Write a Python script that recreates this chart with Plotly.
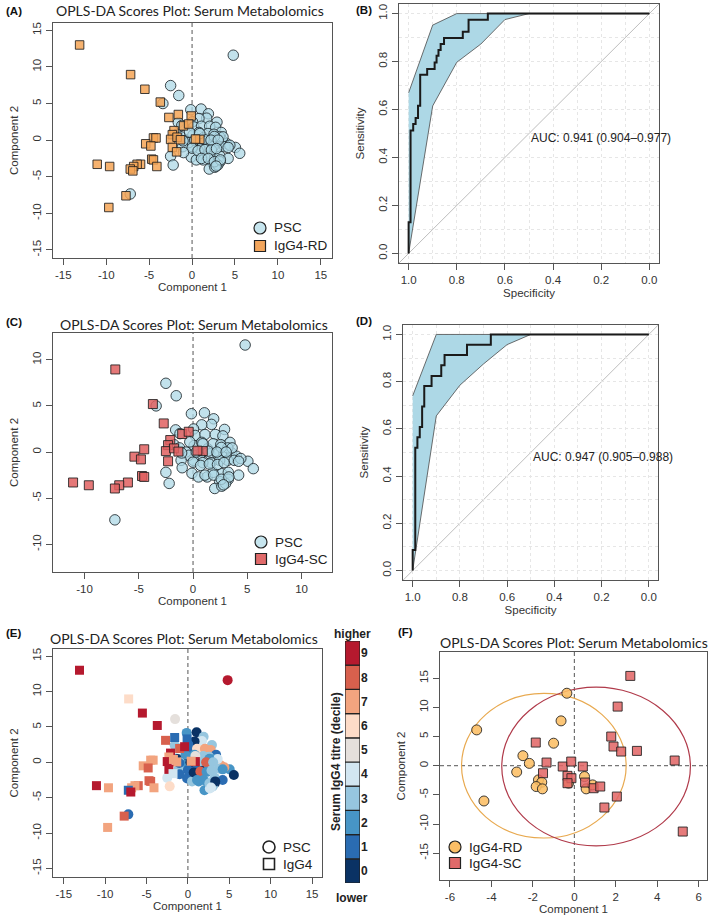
import plotly.graph_objects as go

W, H = 709, 924
def px(x): return x / W
def py(y): return 1 - y / H

# ---------------- DATA ----------------
# PSC scores (shared by panels A, C, E)
psc_c1 = [4.8,-2.5,-1.55,-3.4,-0.15,1.05,1.9,1.7,0.8,2.9,0.05,-1.6,-1.2,0.2,1.1,2.05,2.75,3.4,-1.75,-1.25,
          -0.65,0.1,0.8,1.35,1.85,2.55,0.8,0.6,1.55,2.25,2.85,3.55,4.0,3.2,2.45,1.65,0.9,0.05,-0.4,-1.1,
          -0.1,0.5,1.3,1.85,2.65,3.25,4.2,5.05,5.55,2.45,3.25,2.0,2.65,3.0,-2.5,-2.2,-7.2,3.2,3.6,3.8,
          4.4,2.6,-1.05,0.3,1.4,2.2,3.05,4.2,0.0,0.7,1.5,2.25,2.85,1.1,1.9,2.6,3.3,2.8,-1.0,-0.3,0.9]
psc_c2 = [11.6,7.45,6.1,5.0,4.15,4.25,3.6,3.0,2.95,2.45,2.5,2.4,2.0,1.8,1.9,1.9,1.75,1.05,0.8,0.45,
          0.0,0.7,1.05,0.35,0.9,0.8,0.0,-0.55,-0.2,-0.2,-0.1,-0.1,-0.45,-0.9,-0.9,-1.15,-1.15,-0.9,-0.35,-0.9,
          -2.3,-2.7,-2.7,-2.2,-2.35,-2.2,-2.5,-1.0,-1.8,-3.2,-2.95,-3.95,-3.7,-3.4,-2.2,-3.4,-7.35,0.45,0.45,-0.9,
          -0.7,0.5,-0.1,0.0,0.1,0.0,0.0,-1.0,-1.1,-1.45,-1.3,-1.35,-1.15,-2.5,-2.5,-2.95,-2.7,-3.55,-1.7,1.1,0.9]
psc_decile = [9,None,5,None,2,0,3,4,0,3, 1,3,3,1,6,7,7,1,4,0, 3,0,2,4,3,3,5,6,0,3,
              4,2,7,4,3,0,1,1,2,3, 1,3,2,2,4,3,1,2,0,3, 0,2,4,3,4,6,1,2,4,3,
              7,2,1,0,3,8,3,2,1,0, 8,2,3,2,2,3,0,4,1,2,5]

# IgG4 scores (panel A/E); igg4_sc flags the IgG4-SC subset shown in panel C
igg4_c1 = [-13.1,-7.16,-5.5,-3.7,-2.7,-1.6,-0.1,-1.0,-0.4,-2.1,-2.3,-2.5,-1.75,-1.35,-2.3,-1.8,0.9,0.4,-4.5,-4.2,
           -5.4,-4.8,-4.7,-4.5,-4.1,-6.0,-6.4,-6.8,-7.2,-6.9,-9.6,-11.05,-7.7,-9.7]
igg4_c2 = [13.0,8.95,6.95,5.2,3.1,3.5,3.3,1.95,2.2,1.3,0.75,0.1,0.4,0.05,-1.0,-1.6,0.1,0.15,0.3,0.3,
           -0.5,-0.8,-2.6,-2.7,-3.6,-3.3,-3.3,-3.6,-3.95,-4.2,-3.6,-3.3,-7.6,-9.2]
igg4_decile = [9,6,9,9,8,1,1,8,9,9, 7,9,7,7,9,4,9,7,7,7, 7,8,8,8,7,8,7,7,1,9, 7,9,8,7]
igg4_sc = [0,1,0,1,1,0,0,1,1,1, 1,1,1,1,1,0,1,1,1,0, 1,1,1,1,0,1,0,1,1,0, 1,1,0,0]

# ROC (B)
roc_b_spec = [1.0,1.0,0.992,0.981,0.971,0.961,0.952,0.923,0.892,0.884,0.876,0.867,0.853,0.775,0.751,0.671,0.0]
roc_b_sens = [0.0,0.13,0.513,0.54,0.565,0.616,0.745,0.769,0.796,0.824,0.848,0.873,0.898,0.924,0.974,1.0,1.0]
ci_spec = [1.0,0.9,0.8,0.7,0.6,0.5,0.4,0.3,0.2,0.1,0.0]
ci_b_lower = [0.0,0.615,0.797,0.873,0.975,1.0,1.0,1.0,1.0,1.0,1.0]
ci_b_upper = [0.67,0.952,1.0,1.0,1.0,1.0,1.0,1.0,1.0,1.0,1.0]
auc_b = "AUC: 0.941 (0.904\u20130.977)"

# ROC (D)
roc_d_spec = [1.0,1.0,0.989,0.980,0.970,0.960,0.951,0.920,0.879,0.865,0.770,0.669,0.0]
roc_d_sens = [0.0,0.087,0.52,0.565,0.608,0.695,0.782,0.824,0.870,0.913,0.956,1.0,1.0]
ci_d_lower = [0.0,0.655,0.785,0.875,0.957,1.0,1.0,1.0,1.0,1.0,1.0]
ci_d_upper = [0.74,1.0,1.0,1.0,1.0,1.0,1.0,1.0,1.0,1.0,1.0]
auc_d = "AUC: 0.947 (0.905\u20130.988)"

# Panel F: IgG4-RD vs IgG4-SC
f_rd_c1 = [-4.71,-4.36,-0.36,-0.64,-1.0,-2.48,-2.17,-2.78,-1.73,-1.57,-1.84,-1.54,-0.28,0.49,0.57,0.88]
f_rd_c2 = [6.14,-6.05,12.43,7.69,3.86,1.72,0.4,-1.08,-2.43,-2.83,-3.57,-3.97,-3.0,-1.86,-3.97,-3.29]
f_sc_c1 = [2.7,2.09,1.78,1.89,2.26,3.02,4.84,5.23,-1.86,-1.34,-1.51,-0.56,-0.15,0.41,-0.33,-0.14,-0.33,0.52,0.93,1.25,2.05,1.45]
f_sc_c2 = [15.4,10.14,5.0,3.29,2.43,2.54,0.89,-11.29,3.97,0.54,-1.29,-0.14,0.71,-0.14,-1.74,-2.14,-3.0,-2.89,-3.86,-3.57,-5.29,-7.17]
# confidence ellipses (centre x, centre y, semi-axis x, semi-axis y)
ell_rd = [-1.47, 0.0, 3.97, 12.4]
ell_sc = [1.05, -0.14, 4.55, 13.6]

deciles = list(range(10))
decile_colors = ['#0a3264','#2a6cb2','#4795c6','#96c6df','#d2e6f1',
                 '#e5e0dc','#fddcc8','#f2a47f','#d8604d','#b5192e']

t15 = [-15, -10, -5, 0, 5, 10, 15]
t10 = [-10, -5, 0, 5, 10]
t6 = [-6, -4, -2, 0, 2, 4, 6]
troc = [0, 0.2, 0.4, 0.6, 0.8, 1.0]

# ---------------- STYLE ----------------
TICKF = dict(family='Liberation Sans, Arial', size=11.5, color='#333')
TITLEF = dict(family='Liberation Sans, Arial', size=11.5, color='#333')
HEADF = dict(family='Lato, Open Sans', size=14, color='#222')
LINE = '#555'
DASH = '4px,3px'

fig = go.Figure()
shapes, annots = [], []

def base_axis(dom, rng, tickvals, title, anchor, standoff=4, extra=None, fmt=None):
    if fmt is None:
        ticktext = [str(v) for v in tickvals]
    else:
        ticktext = [fmt % v for v in tickvals]
    d = dict(domain=dom, range=rng, tickvals=tickvals, ticktext=ticktext, showline=True, linecolor=LINE,
             linewidth=1, mirror=True, ticks='outside', ticklen=6, tickcolor=LINE, tickfont=TICKF,
             zeroline=False, showgrid=False, anchor=anchor,
             title=dict(text=title, font=TITLEF, standoff=standoff))
    if extra:
        d.update(extra)
    return d

def pdx(a, b): return [px(a), px(b)]
def pdy(top, bot): return [py(bot), py(top)]

# --- Panel A ---
fig.add_trace(go.Scatter(x=psc_c1, y=psc_c2, mode='markers', xaxis='x', yaxis='y',
    marker=dict(symbol='circle', size=10.5, color='rgba(173,216,230,0.75)', line=dict(color='rgba(30,40,45,0.85)', width=1))))
fig.add_trace(go.Scatter(x=igg4_c1, y=igg4_c2, mode='markers', xaxis='x', yaxis='y',
    marker=dict(symbol='square', size=8.5, color='rgba(244,164,86,0.85)', line=dict(color='rgba(30,30,30,0.85)', width=1))))

# --- Panel C ---
sc_x = [v for v, s in zip(igg4_c1, igg4_sc) if s]
sc_y = [v for v, s in zip(igg4_c2, igg4_sc) if s]
fig.add_trace(go.Scatter(x=psc_c1, y=psc_c2, mode='markers', xaxis='x3', yaxis='y3',
    marker=dict(symbol='circle', size=10.5, color='rgba(173,216,230,0.75)', line=dict(color='rgba(30,40,45,0.85)', width=1))))
fig.add_trace(go.Scatter(x=sc_x, y=sc_y, mode='markers', xaxis='x3', yaxis='y3',
    marker=dict(symbol='square', size=9, color='rgba(224,96,96,0.85)', line=dict(color='rgba(30,30,30,0.85)', width=1))))

# --- Panel E ---
ex = [a for a, d in zip(psc_c1, psc_decile) if d is not None]
ey = [b for b, d in zip(psc_c2, psc_decile) if d is not None]
ec = [decile_colors[d] for d in psc_decile if d is not None]
fig.add_trace(go.Scatter(x=ex, y=ey, mode='markers', xaxis='x5', yaxis='y5',
    marker=dict(symbol='circle', size=10, color=ec, line=dict(width=0))))
fig.add_trace(go.Scatter(x=igg4_c1, y=igg4_c2, mode='markers', xaxis='x5', yaxis='y5',
    marker=dict(symbol='square', size=9, color=[decile_colors[d] for d in igg4_decile], line=dict(width=0))))

# colour key for E
fig.add_trace(go.Bar(x=[0]*10, y=[1]*10, base=deciles, width=1, xaxis='x7', yaxis='y7',
    marker=dict(color=decile_colors, line=dict(color='#222', width=1.2))))

# --- ROC panels ---
def roc(spec, sens, lo, up, xa, ya):
    fig.add_trace(go.Scatter(x=ci_spec + ci_spec[::-1], y=up + lo[::-1], mode='lines', fill='toself',
        fillcolor='#add8e6', line=dict(color='#4a4a4a', width=0.8), xaxis=xa, yaxis=ya))
    fig.add_trace(go.Scatter(x=spec, y=sens, mode='lines', line=dict(color='#1a1a1a', width=2, shape='hv'),
        xaxis=xa, yaxis=ya))
roc(roc_b_spec, roc_b_sens, ci_b_lower, ci_b_upper, 'x2', 'y2')
roc(roc_d_spec, roc_d_sens, ci_d_lower, ci_d_upper, 'x4', 'y4')

# --- Panel F ---
fig.add_trace(go.Scatter(x=f_rd_c1, y=f_rd_c2, mode='markers', xaxis='x6', yaxis='y6',
    marker=dict(symbol='circle', size=10, color='rgba(252,190,100,0.88)', line=dict(color='rgba(30,30,30,0.85)', width=1))))
fig.add_trace(go.Scatter(x=f_sc_c1, y=f_sc_c2, mode='markers', xaxis='x6', yaxis='y6',
    marker=dict(symbol='square', size=9, color='rgba(226,100,100,0.85)', line=dict(color='rgba(30,30,30,0.85)', width=1))))

for (cx, cy, a, b), col in [(ell_rd, '#e8a94f'), (ell_sc, '#b03a4a')]:
    shapes.append(dict(type='circle', xref='x6', yref='y6', x0=cx - a, x1=cx + a, y0=cy - b, y1=cy + b,
                       line=dict(color=col, width=1.2), layer='below'))

# dashed reference lines
for xr, yr in [('x', 'y'), ('x3', 'y3'), ('x5', 'y5'), ('x6', 'y6')]:
    shapes.append(dict(type='line', xref=xr, yref=yr + ' domain', x0=0, x1=0, y0=0, y1=1,
                       line=dict(color='#555', width=1, dash=DASH), layer='below'))
shapes.append(dict(type='line', xref='x6 domain', yref='y6', x0=0, x1=1, y0=0, y1=0,
                   line=dict(color='#555', width=1, dash=DASH), layer='below'))
# identity lines for ROC
for xr, yr in [('x2', 'y2'), ('x4', 'y4')]:
    shapes.append(dict(type='line', xref=xr, yref=yr, x0=1.04, y0=-0.04, x1=-0.04, y1=1.04,
                       line=dict(color='#bdbdbd', width=1), layer='below'))

# ---------------- AXES ----------------
rocgrid = dict(showgrid=True, gridcolor='#e6e6e6', griddash='dot', gridwidth=1,
               minor=dict(dtick=0.1, showgrid=True, gridcolor='#e6e6e6', griddash='dot', ticks=''))
yrot = dict(tickangle=-90)

lay = dict(
    xaxis=base_axis(pdx(53, 332), [-16.2, 16.3], t15, 'Component 1', 'y', 2),
    yaxis=base_axis(pdy(23, 258), [-16.1, 16.0], t15, 'Component 2', 'x', 10, yrot),
    xaxis2=base_axis(pdx(399, 659), [1.04, -0.04], troc, 'Specificity', 'y2', 4, rocgrid, '%.1f'),
    yaxis2=base_axis(pdy(4, 263), [-0.04, 1.04], troc, 'Sensitivity', 'x2', 10, dict(rocgrid, tickangle=-90), '%.1f'),
    xaxis3=base_axis(pdx(53, 332), [-12.9, 12.8], t10, 'Component 1', 'y3', 2),
    yaxis3=base_axis(pdy(333, 572), [-13.0, 12.9], t10, 'Component 2', 'x3', 10, yrot),
    xaxis4=base_axis(pdx(403, 658), [1.041, -0.039], troc, 'Specificity', 'y4', 4, rocgrid, '%.1f'),
    yaxis4=base_axis(pdy(325, 580), [-0.04, 1.04], troc, 'Sensitivity', 'x4', 10, dict(rocgrid, tickangle=-90), '%.1f'),
    xaxis5=base_axis(pdx(53, 322), [-16.3, 16.2], t15, 'Component 1', 'y5', 2),
    yaxis5=base_axis(pdy(649, 877), [-16.2, 16.0], t15, 'Component 2', 'x5', 10, yrot),
    xaxis6=base_axis(pdx(440, 707), [-6.48, 6.4], t6, 'Component 1', 'y6', 2),
    yaxis6=base_axis(pdy(652, 880), [-19.6, 19.5], t15, 'Component 2', 'x6', 10, yrot),
    xaxis7=dict(domain=pdx(345, 360), range=[-0.5, 0.5], visible=False, anchor='y7'),
    yaxis7=dict(domain=pdy(641, 883), range=[0, 10], anchor='x7', side='right',
                tickvals=[d + 0.5 for d in deciles], ticktext=['<b>%d</b>' % d for d in deciles],
                ticks='', showline=False, showgrid=False, zeroline=False,
                tickfont=dict(family='Liberation Sans, Arial', size=12, color='#222')),
)

# ---------------- TEXT ----------------
def ann(text, x, y, font, xanchor='center', yanchor='middle', angle=0, xref='paper', yref='paper'):
    annots.append(dict(text=text, x=x, y=y, xref=xref, yref=yref, xanchor=xanchor, yanchor=yanchor,
                       showarrow=False, font=font, textangle=angle))

LBL = dict(family='Liberation Sans, Arial', size=11.5, color='#111')
for t, x, y in [('(A)', 4, 11), ('(B)', 354, 10), ('(C)', 4, 322), ('(D)', 354, 321), ('(E)', 4, 633), ('(F)', 396, 632)]:
    ann('<b>%s</b>' % t, px(x), py(y), LBL, xanchor='left')

title = 'OPLS-DA Scores Plot: Serum Metabolomics'
for cx, cy in [(190, 11), (194, 324), (184, 638), (574, 642)]:
    ann(title, px(cx), py(cy), HEADF)

AUCF = dict(family='Liberation Sans, Arial', size=12, color='#222')
ann(auc_b, 0.5, 0.48, AUCF, xanchor='left', xref='x2', yref='y2')
ann(auc_d, 0.5, 0.482, AUCF, xanchor='left', xref='x4', yref='y4')

BOLD = dict(family='Liberation Sans, Arial', size=12, color='#222')
ann('<b>higher</b>', px(352), py(634), BOLD)
ann('<b>lower</b>', px(352), py(898), BOLD)
ann('<b>Serum IgG4 titre (decile)</b>', px(336), py(762), BOLD, angle=-90)

# legends drawn as shapes + text
LEGF = dict(family='Liberation Sans, Arial', size=13.5, color='#222')
def leg(cx, cy, sym, fill, text, lw=1.2, r=6):
    shapes.append(dict(type='circle' if sym == 'circle' else 'rect', xref='paper', yref='paper',
                       x0=px(cx - r), x1=px(cx + r), y0=py(cy + r), y1=py(cy - r),
                       fillcolor=fill, line=dict(color='#222', width=lw)))
    ann(text, px(cx + 12), py(cy), LEGF, xanchor='left')

leg(260, 228, 'circle', '#c6e5ee', 'PSC')
leg(260, 246, 'square', '#f2a55c', 'IgG4-RD', r=5.5)
leg(261, 542, 'circle', '#c6e5ee', 'PSC')
leg(261, 559, 'square', '#e06a6a', 'IgG4-SC', r=5.5)
leg(269, 847, 'circle', 'rgba(0,0,0,0)', 'PSC', lw=1.6)
leg(269, 864, 'square', 'rgba(0,0,0,0)', 'IgG4', lw=1.6, r=5.5)
leg(455, 847, 'circle', '#fbbe66', 'IgG4-RD')
leg(455, 863, 'square', '#e06a6a', 'IgG4-SC', r=5.5)

fig.update_layout(width=W, height=H, margin=dict(l=0, r=0, t=0, b=0), showlegend=False,
                  plot_bgcolor='white', paper_bgcolor='white', shapes=shapes, annotations=annots,
                  bargap=0, hovermode=False, **lay)

fig.write_html('out.html', config={'displayModeBar': False, 'staticPlot': True},
               post_script="document.body.style.margin='0';document.body.style.overflow='hidden';")
